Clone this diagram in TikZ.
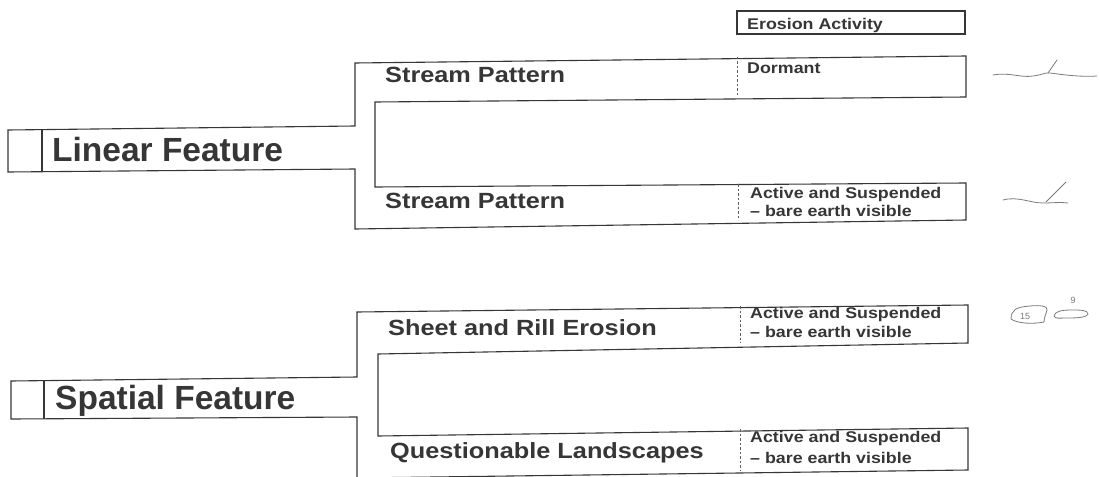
\documentclass[tikz,border=0pt]{standalone}
\usepackage{fontspec}
\setmainfont{Liberation Sans}
\newfontfamily\bigfont{Liberation Sans}[BoldFont={Liberation Sans Bold}]
\newfontfamily\widefont{Liberation Sans}[BoldFont={Liberation Sans Bold},BoldFeatures={FakeStretch=1.15},FakeStretch=1.15]
\definecolor{ink}{HTML}{363636}
\definecolor{pencil}{HTML}{7A7A7A}
\tikzset{
  outline/.style={draw=ink, line width=1.1pt, line join=miter},
  sep/.style={draw=ink!80, line width=0.7pt, dash pattern=on 2.5pt off 2pt},
  title/.style={anchor=base west, inner sep=0pt, text=ink, font=\bigfont\bfseries\fontsize{33.5}{36}\selectfont},
  sub/.style={anchor=base west, inner sep=0pt, text=ink, font=\widefont\bfseries\fontsize{22}{24}\selectfont},
  small/.style={anchor=base west, inner sep=0pt, text=ink, font=\widefont\bfseries\fontsize{15.5}{17}\selectfont},
  hand/.style={draw=pencil, line width=0.8pt, line cap=round, line join=round},
  handtext/.style={inner sep=0pt, text=pencil, font=\fontsize{9}{10}\selectfont}
}
\begin{document}
\begin{tikzpicture}[x=1pt, y=-1pt]
\useasboundingbox (0,0) rectangle (1099,476);
\fill[white] (0,0) rectangle (1099,476);

% ---------------- Linear group ----------------
\draw[outline] (737,11) rectangle (965,34);
\node[small] (ea) at (747,30) {Erosion Activity};

\draw[outline] (8,130) -- (355,126) -- (355,63) -- (966,56) -- (966,97) -- (375,102)
  -- (375,187) -- (966,183) -- (966,220) -- (355,229) -- (355,169) -- (8,172) -- cycle;
\draw[outline] (42,130) -- (42,171);
\draw[sep] (737,57) -- (737,97);
\draw[sep] (738,184) -- (738,220);

\node[title] (lin) at (52,161) {Linear Feature};
\node[sub] (sp1) at (385,83) {Stream Pattern};
\node[small] (dor) at (747,74) {Dormant};
\node[sub] (sp2) at (385,208) {Stream Pattern};
\node[small] (as1) at (750,198) {Active and Suspended};
\node[small] (bv1) at (750,216) {– bare earth visible};

% ---------------- Spatial group ----------------
\draw[outline] (11,381) -- (357,377) -- (357,312) -- (968,305) -- (968,343) -- (378,354)
  -- (378,436) -- (968,428) -- (968,470) -- (357,478) -- (357,417) -- (11,419) -- cycle;
\draw[outline] (44,381) -- (44,419);
\draw[sep] (740,306) -- (740,343);
\draw[sep] (740,429) -- (740,470);

\node[title] (spa) at (55,409) {Spatial Feature};
\node[sub] (sre) at (388,335) {Sheet and Rill Erosion};
\node[sub] (ql) at (390,458) {Questionable Landscapes};
\node[small] (as2) at (750,318) {Active and Suspended};
\node[small] (bv2) at (750,337) {– bare earth visible};
\node[small] (as3) at (750,442) {Active and Suspended};
\node[small] (bv3) at (750,463) {– bare earth visible};

% ---------------- handwritten marks ----------------
\draw[hand] (993,75) .. controls (1010,72) and (1020,78) .. (1033,76)
  .. controls (1042,75) and (1046,72) .. (1050,73)
  .. controls (1065,75) and (1080,77) .. (1097,76);
\draw[hand] (1048,73) -- (1057,60);
\draw[hand] (1003,200) .. controls (1018,196) and (1030,203) .. (1043,203)
  .. controls (1052,203) and (1060,202) .. (1068,203);
\draw[hand] (1046,202) -- (1066,182);
\draw[hand] (1011,319) .. controls (1011,310) and (1016,307) .. (1030,306)
  .. controls (1040,305) and (1048,306) .. (1047,310)
  .. controls (1046,314) and (1044,318) .. (1044,322)
  .. controls (1035,324) and (1018,324) .. (1011,319);
\node[handtext] (n15) at (1025,316) {15};
\draw[hand] (1054,316) .. controls (1055,311) and (1062,310) .. (1072,310)
  .. controls (1080,310) and (1088,310) .. (1088,314)
  .. controls (1086,318) and (1075,318) .. (1066,318)
  .. controls (1060,318) and (1055,319) .. (1054,316);
\node[handtext] (n9) at (1073,300) {9};
\end{tikzpicture}
\end{document}
